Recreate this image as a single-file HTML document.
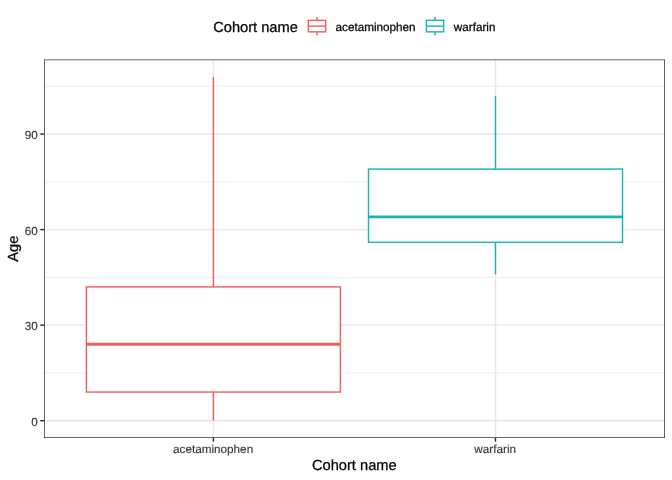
<!DOCTYPE html><html><head><meta charset="utf-8"><title>Age by cohort</title><style>html,body{margin:0;padding:0;background:#fff;width:672px;height:480px;overflow:hidden}svg{display:block;will-change:transform}text{font-family:"Liberation Sans",Arial,Helvetica,sans-serif;text-rendering:geometricPrecision;paint-order:stroke}</style></head><body>
<svg width="672" height="480" viewBox="0 0 672 480">
<defs><clipPath id="pc"><rect x="44.0" y="59.5" width="621.0" height="378.5"/></clipPath></defs>
<rect x="0" y="0" width="672" height="480" fill="#fff"/>
<g clip-path="url(#pc)">
<line x1="44.0" x2="665.0" y1="372.93" y2="372.93" stroke="#E6E6E6" stroke-width="0.71"/>
<line x1="44.0" x2="665.0" y1="277.38" y2="277.38" stroke="#E6E6E6" stroke-width="0.71"/>
<line x1="44.0" x2="665.0" y1="181.82" y2="181.82" stroke="#E6E6E6" stroke-width="0.71"/>
<line x1="44.0" x2="665.0" y1="86.27" y2="86.27" stroke="#E6E6E6" stroke-width="0.71"/>
<line x1="44.0" x2="665.0" y1="420.70" y2="420.70" stroke="#E6E6E6" stroke-width="1.42"/>
<line x1="44.0" x2="665.0" y1="325.15" y2="325.15" stroke="#E6E6E6" stroke-width="1.42"/>
<line x1="44.0" x2="665.0" y1="229.60" y2="229.60" stroke="#E6E6E6" stroke-width="1.42"/>
<line x1="44.0" x2="665.0" y1="134.05" y2="134.05" stroke="#E6E6E6" stroke-width="1.42"/>
<line x1="213.4" x2="213.4" y1="59.50" y2="438.00" stroke="#E6E6E6" stroke-width="1.42"/>
<line x1="495.5" x2="495.5" y1="59.50" y2="438.00" stroke="#E6E6E6" stroke-width="1.42"/>
<line x1="213.4" x2="213.4" y1="76.72" y2="286.93" stroke="#F35E5A" stroke-width="1.42"/>
<line x1="213.4" x2="213.4" y1="392.03" y2="420.70" stroke="#F35E5A" stroke-width="1.42"/>
<rect x="86.40" y="286.93" width="254.00" height="105.11" fill="#fff" stroke="#F35E5A" stroke-width="1.42"/>
<line x1="86.40" x2="340.40" y1="344.26" y2="344.26" stroke="#F35E5A" stroke-width="2.84"/>
<line x1="495.5" x2="495.5" y1="95.83" y2="169.08" stroke="#17B3B7" stroke-width="1.42"/>
<line x1="495.5" x2="495.5" y1="242.34" y2="274.19" stroke="#17B3B7" stroke-width="1.42"/>
<rect x="368.50" y="169.08" width="254.00" height="73.25" fill="#fff" stroke="#17B3B7" stroke-width="1.42"/>
<line x1="368.50" x2="622.50" y1="216.86" y2="216.86" stroke="#17B3B7" stroke-width="2.84"/>
<rect x="44.0" y="59.50" width="621.00" height="378.50" fill="none" stroke="#262626" stroke-width="1.42"/>
</g>
<line x1="40.33" x2="44.0" y1="420.70" y2="420.70" stroke="#262626" stroke-width="1.42"/>
<text x="37.9" y="425.70" font-size="11.73" fill="#303030" stroke="#303030" stroke-width="0.12" text-anchor="end">0</text>
<line x1="40.33" x2="44.0" y1="325.15" y2="325.15" stroke="#262626" stroke-width="1.42"/>
<text x="37.9" y="330.15" font-size="11.73" fill="#303030" stroke="#303030" stroke-width="0.12" text-anchor="end">30</text>
<line x1="40.33" x2="44.0" y1="229.60" y2="229.60" stroke="#262626" stroke-width="1.42"/>
<text x="37.9" y="234.60" font-size="11.73" fill="#303030" stroke="#303030" stroke-width="0.12" text-anchor="end">60</text>
<line x1="40.33" x2="44.0" y1="134.05" y2="134.05" stroke="#262626" stroke-width="1.42"/>
<text x="37.9" y="139.05" font-size="11.73" fill="#303030" stroke="#303030" stroke-width="0.12" text-anchor="end">90</text>
<line x1="213.4" x2="213.4" y1="438.00" y2="441.67" stroke="#262626" stroke-width="1.42"/>
<text x="213.10" y="453.0" font-size="11.73" fill="#303030" stroke="#303030" stroke-width="0.12" text-anchor="middle">acetaminophen</text>
<line x1="495.5" x2="495.5" y1="438.00" y2="441.67" stroke="#262626" stroke-width="1.42"/>
<text x="495.20" y="453.0" font-size="11.73" fill="#303030" stroke="#303030" stroke-width="0.12" text-anchor="middle">warfarin</text>
<text x="354.3" y="469.8" font-size="14.67" fill="#000" stroke="#000" stroke-width="0.25" text-anchor="middle">Cohort name</text>
<text transform="translate(17.7 248.7) rotate(-90)" x="0" y="0" font-size="14.67" fill="#000" stroke="#000" stroke-width="0.25" text-anchor="middle">Age</text>
<text x="213.15" y="31.6" font-size="14.67" fill="#000" stroke="#000" stroke-width="0.25">Cohort name</text>
<line x1="317.00" x2="317.00" y1="16.88" y2="20.34" stroke="#F35E5A" stroke-width="1.42"/>
<line x1="317.00" x2="317.00" y1="31.86" y2="35.32" stroke="#F35E5A" stroke-width="1.42"/>
<rect x="308.36" y="20.34" width="17.28" height="11.52" fill="#fff" stroke="#F35E5A" stroke-width="1.42"/>
<line x1="308.36" x2="325.64" y1="26.10" y2="26.10" stroke="#F35E5A" stroke-width="1.42"/>
<text x="335.5" y="30.8" font-size="11.73" fill="#000" stroke="#000" stroke-width="0.25">acetaminophen</text>
<line x1="435.00" x2="435.00" y1="16.88" y2="20.34" stroke="#17B3B7" stroke-width="1.42"/>
<line x1="435.00" x2="435.00" y1="31.86" y2="35.32" stroke="#17B3B7" stroke-width="1.42"/>
<rect x="426.36" y="20.34" width="17.28" height="11.52" fill="#fff" stroke="#17B3B7" stroke-width="1.42"/>
<line x1="426.36" x2="443.64" y1="26.10" y2="26.10" stroke="#17B3B7" stroke-width="1.42"/>
<text x="453.8" y="30.8" font-size="11.73" fill="#000" stroke="#000" stroke-width="0.25">warfarin</text>
</svg></body></html>
